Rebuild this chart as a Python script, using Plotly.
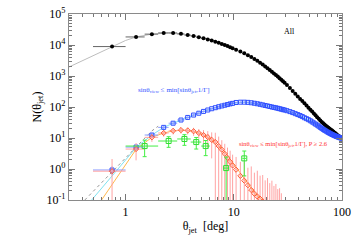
import plotly.graph_objects as go
import math

# ---- data ----
theta = [0.75, 1.25, 1.75, 2.25, 2.75, 3.25, 3.75, 4.25, 4.75, 5.25, 5.75, 6.25, 6.75, 7.25, 7.75, 8.25, 8.75, 9.25, 9.75,
         10.5, 11.5, 12.5, 13.5, 14.5, 15.5, 16.5, 17.5, 18.5, 19.5, 20.5, 21.5, 22.5, 23.5, 24.5, 25.5, 26.5, 27.5, 28.5, 29.5,
         31, 33, 35, 37, 39, 41, 43, 45, 47, 49, 51, 53, 55, 57, 59, 61, 63, 65, 67, 69, 71, 73, 75, 77, 79, 81, 83, 85, 87, 89,
         91, 93, 95, 97, 99]
theta_halfbin = 0.25

n_all = [8900, 18200, 22400, 24500, 24500, 22900, 20900, 19500, 17900, 16500, 15100, 13900, 12800, 11750, 10800, 9980, 9200, 8520, 7890,
         7080, 6170, 5370, 4680, 4070, 3550, 3090, 2690, 2340, 2040, 1780, 1550, 1380, 1200, 1070, 955, 850, 760, 676, 603,
         513, 407, 331, 269, 219, 182, 155, 132, 112, 95, 81, 71, 62, 54, 47, 41.7, 37, 33, 30, 27.5, 25, 23, 21.4, 20, 18.6,
         17.4, 16.2, 15.1, 14.1, 13.2, 12.3, 11.7, 11.2, 10.7, 10.2]

n_view = [0.93, 5.1, 12.5, 22, 30, 38, 46, 55, 63, 72, 80, 88, 95, 102, 108, 114, 120, 126, 131,
          140, 143, 143, 141, 137, 132, 127, 122, 117, 112, 108, 104, 100, 97, 94, 91, 88, 85, 82, 80,
          76, 71, 66, 61, 57, 53, 49, 45, 42, 39, 36, 33, 30.5, 28, 26, 24, 22, 20.5, 19, 17.8, 16.8, 15.8, 15, 14.2, 13.6,
          13, 12.5, 12, 11.6, 11.2, 10.9, 10.6, 10.3, 10.1, 9.9]
n_view_err = [0.3, 1.2, 2, 2.8, 3.3, 3.8, 4.2, 4.6, 5, 5.3, 5.6, 5.9, 6.1, 6.3, 6.5, 6.7, 6.9, 7.1, 7.2,
              7.5, 7.6, 7.6, 7.5, 7.4, 7.3, 7.1, 7, 6.8, 6.7, 6.6, 6.4, 6.3, 6.2, 6.1, 6, 5.9, 5.8, 5.7, 5.6,
              5.5, 5.3, 5.1, 4.9, 4.8, 4.6, 4.4, 4.2, 4.1, 3.9, 3.8, 3.6, 3.5, 3.3, 3.2, 3.1, 3, 2.9, 2.8, 2.7,
              2.6, 2.5, 2.45, 2.4, 2.35, 2.3, 2.25, 2.2, 2.15, 2.1, 2.05, 2, 1.98, 1.96, 1.94]

n_pol = [0.85, 4.4, 10.5, 14.5, 17, 18, 17.5, 16.5, 14.5, 12.5, 10.7, 8.7, 7.4, 5.5, 4.2, 3.1, 2.3, 1.7, 1.3,
         0.95, 0.6, 0.42, 0.3, 0.21, 0.16, 0.13, 0.11, 0.09, 0.08, 0.06, 0.05, 0.04, 0.035, 0.03, 0.025, 0.02, 0.015]
n_pol_err = [1.25, 2.5, 3, 3.5, 4, 4.2, 4.5, 4.8, 5, 5.5, 6, 6.5, 7.4, 5.6, 4.3, 3.4, 2.6, 2.2, 1.6,
             1.5, 1.1, 1.3, 0.8, 1.0, 0.6, 0.75, 0.5, 0.55, 0.35, 0.45, 0.3, 0.38, 0.25, 0.3, 0.2, 0.22, 0.15]

theta_green = [1.5, 2.5, 3.5, 4.5, 5.5, 8.5, 12.5]
n_green = [5.5, 8, 9.3, 7.4, 5.5, 1.07, 2.2]
n_green_err = [3, 3, 3.5, 3, 2.8, 1.35, 1.6]
green_halfbin = 0.5

# model curves
theta_model = [0.3, 0.4, 0.5, 0.6, 0.75, 1.0, 1.25, 1.75, 2.5, 3.5, 5, 7, 10, 15, 20, 30, 50, 70, 100]
n_model = [1950, 3150, 4600, 6150, 8900, 14000, 18200, 22400, 24500, 21600, 17500, 12500, 7900, 3750, 1930, 600, 95, 27.5, 10]

theta_cyan = [0.486, 0.6, 0.75, 1.0, 1.25, 1.75, 2.25, 2.75, 3.25, 4.25, 5.25, 7.25, 9.75, 12.5, 20.5, 29.5, 49, 99]
n_cyan = [0.1, 0.24, 0.6, 1.95, 4.9, 12.5, 22, 30, 38, 55, 72, 102, 131, 143, 108, 80, 39, 9.9]

theta_orange = [0.6, 0.75, 1.0, 1.25, 1.75, 2.25, 2.75, 3.25, 3.75, 4.25, 5, 6, 7, 8, 9, 10, 12, 14, 16, 18.5]
n_orange = [0.1, 0.32, 1.35, 4.3, 10.5, 14.5, 17, 17.8, 17.5, 16.3, 13.5, 9.6, 6.4, 4.0, 2.4, 1.45, 0.58, 0.27, 0.15, 0.1]

theta_dot = [0.42, 0.6, 0.8, 1.0, 1.25, 1.5, 1.75, 2.0]
n_dot = [0.1, 0.36, 1.0, 2.3, 5.0, 9.6, 17, 24]

y_ticks = [-1, 0, 1, 2, 3, 4, 5]
x_ticks = [1, 10, 100]

# ---- figure ----
FONT = "Liberation Serif"
fig = go.Figure()

fig.add_trace(go.Scatter(x=theta_model, y=n_model, mode="lines",
                         line=dict(color="#bdbdbd", width=1), showlegend=False))
fig.add_trace(go.Scatter(x=theta_cyan, y=n_cyan, mode="lines",
                         line=dict(color="#7fe3f0", width=1), showlegend=False))
fig.add_trace(go.Scatter(x=theta_orange, y=n_orange, mode="lines",
                         line=dict(color="#ffb84d", width=1), showlegend=False))
fig.add_trace(go.Scatter(x=theta_dot, y=n_dot, mode="lines",
                         line=dict(color="#999999", width=1, dash="dot"), showlegend=False))

fig.add_trace(go.Scatter(
    x=theta, y=n_all, mode="markers",
    marker=dict(color="black", size=4, symbol="circle"),
    error_x=dict(type="constant", value=theta_halfbin, color="#666666", thickness=1, width=0),
    showlegend=False))

fig.add_trace(go.Scatter(
    x=theta, y=n_view, mode="markers",
    marker=dict(color="#2f4fff", size=4, symbol="square-open", line=dict(width=1)),
    error_x=dict(type="constant", value=theta_halfbin, color="#8a9cff", thickness=1, width=0),
    error_y=dict(type="data", array=n_view_err, color="#8a9cff", thickness=1, width=0),
    showlegend=False))

fig.add_trace(go.Scatter(
    x=theta[:len(n_pol)], y=n_pol, mode="markers",
    marker=dict(color="#ff5a33", size=4, symbol="diamond-open", line=dict(width=1)),
    error_x=dict(type="constant", value=theta_halfbin, color="#ffa3a3", thickness=1, width=0),
    error_y=dict(type="data", array=n_pol_err, color="#ffa3a3", thickness=1, width=0),
    showlegend=False))

fig.add_trace(go.Scatter(
    x=theta_green, y=n_green, mode="markers",
    marker=dict(color="#33dd33", size=5, symbol="square-open", line=dict(width=1)),
    error_x=dict(type="constant", value=green_halfbin, color="#44ee44", thickness=1, width=0),
    error_y=dict(type="data", array=n_green_err, color="#44ee44", thickness=1, width=2),
    showlegend=False))

fig.add_annotation(x=math.log10(32.5), y=4.42, xref="x", yref="y", text="All", showarrow=False,
                   font=dict(family=FONT, size=8, color="black"))
fig.add_annotation(x=math.log10(2.83), y=2.55, xref="x", yref="y",
                   text="sinθ<sub>view</sub> ≤ min[sinθ<sub>jet</sub>,1/Γ]", showarrow=False,
                   font=dict(family=FONT, size=7, color="#3355ff"))
fig.add_annotation(x=math.log10(28.6), y=0.81, xref="x", yref="y",
                   text="sinθ<sub>view</sub> ≤ min[sinθ<sub>jet</sub>,1/Γ], P ≥ 2.6", showarrow=False,
                   font=dict(family=FONT, size=6.5, color="#ff3333"))

x_minor = [m * 10 ** d for d in (-1, 0, 1) for m in range(2, 10) if 0.3 <= m * 10 ** d <= 100]
y_minor = [m * 10 ** d for d in range(-1, 5) for m in range(2, 10)]

axis_common = dict(type="log", showgrid=False, zeroline=False, showline=True, linecolor="#8a8a8a",
                   linewidth=1.3, mirror="allticks", ticks="inside", ticklen=6, tickcolor="#777777",
                   tickfont=dict(family=FONT, size=12, color="black"))

fig.update_xaxes(**axis_common, range=[math.log10(0.3), 2],
                 tickvals=x_ticks, ticktext=[str(v) for v in x_ticks],
                 minor=dict(tickvals=x_minor, ticks="inside", ticklen=3, tickcolor="#777777"),
                 title=dict(text="θ<sub>jet</sub>  [deg]", font=dict(family=FONT, size=12, color="black"),
                            standoff=4))
fig.update_yaxes(**axis_common, range=[-1, 5],
                 tickvals=[10 ** k for k in y_ticks],
                 ticktext=["10<sup>%d</sup>" % k for k in y_ticks],
                 minor=dict(tickvals=y_minor, ticks="inside", ticklen=3, tickcolor="#777777"),
                 title=dict(text="N(θ<sub>jet</sub>)", font=dict(family=FONT, size=12, color="black"),
                            standoff=2))

fig.update_layout(width=354, height=245, margin=dict(l=69, r=12, t=14, b=45, autoexpand=False),
                  paper_bgcolor="white", plot_bgcolor="white",
                  font=dict(family=FONT, color="black"))

fig.write_html("out.html", config={"displayModeBar": False},
               post_script="document.body.style.margin='0';")
